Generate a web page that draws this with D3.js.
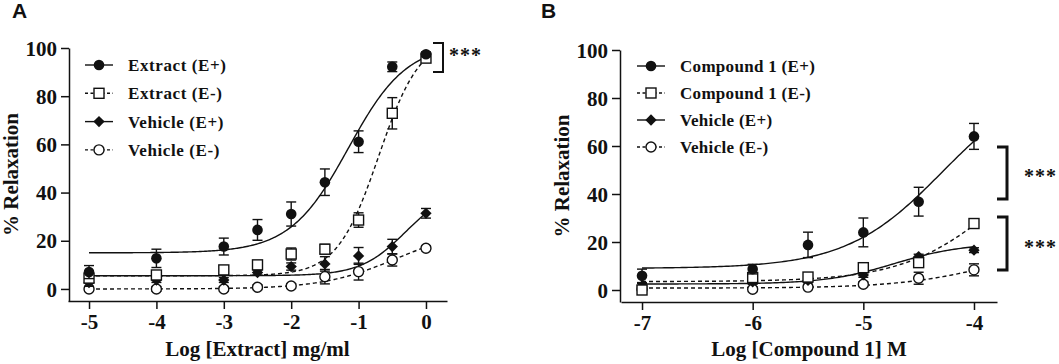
<!DOCTYPE html>
<html><head><meta charset="utf-8">
<script src="https://cdn.jsdelivr.net/npm/d3@7"></script>
<style>
body{margin:0;background:#fff;}
svg text{font-family:"Liberation Serif","Times New Roman",serif;font-weight:bold;fill:#111;}
</style></head>
<body><svg id="c" width="1059" height="364"></svg>
<script>
// ---------- Panel A data ----------
const aX = [-5, -4, -3, -2.5, -2, -1.5, -1, -0.5, 0];
const aExtractEp = [7, 12.7, 17.6, 24.5, 31.1, 44.3, 61.1, 92.2, 97.4];
const aExtractEpErr = [2.7, 3.8, 3.5, 4.3, 5, 5.5, 4.5, 2, 1];
const aExtractEm = [4.5, 5.8, 7.9, 10, 14.5, 16.5, 28.6, 72.9, 95.8];
const aExtractEmErr = [1.5, 1.5, 1.5, 1.5, 2.5, 2, 3, 6.5, 1.5];
const aVehicleEp = [2.6, 3.7, 3.7, 6.8, 9.3, 10.4, 13.7, 17.6, 31.4];
const aVehicleEpErr = [1.5, 1, 1, 1, 1.5, 3, 3.5, 3, 2];
const aVehicleEm = [0, 0, 0, 0.7, 1.2, 5.1, 7.2, 12, 16.9];
const aVehicleEmErr = [1, 1, 1, 1, 1, 3, 3.5, 2.5, 1];
// fitted curves: [bottom, top, logEC50, hill]
const aExtractEpFit = [15, 102, -1.15, 1.0];
const aExtractEmFit = [5.5, 105, -0.7, 1.4];
const aVehicleEpFit = [5.5, 42, -0.3, 1.3];
const aVehicleEmFit = [0, 25, -0.45, 0.8];
const aXTicks = [-5, -4, -3, -2, -1, 0];
const aLegend = ["Extract (E+)", "Extract (E-)", "Vehicle (E+)", "Vehicle (E-)"];

// ---------- Panel B data ----------
const bX = [-7, -6, -5.5, -5, -4.5, -4];
const bCompEp = [5.9, 8.7, 18.8, 24, 36.8, 64];
const bCompEpErr = [2.8, 2, 5.3, 6, 6, 5.4];
const bCompEm = [0, 5.2, 5.4, 9.3, 11.4, 27.7];
const bCompEmErr = [1, 1.5, 1.5, 1.5, 1.5, 2];
const bVehicleEp = [1.7, 3.4, 4, 6.3, 13.9, 16.6];
const bVehicleEpErr = [1, 1, 1, 1, 1, 1];
const bVehicleEm = [0.3, 0.3, 1.2, 2.4, 4.9, 8.4];
const bVehicleEmErr = [1, 1, 1, 1, 2.5, 2.5];
const bCompEpFit = [9, 89.5, -4.285, 1.0];
const bCompEmFit = [3.5, 68, -3.76, 1.0];
const bVehicleEpFit = [2.5, 19.5, -4.72, 1.4];
const bVehicleEmFit = [0.8, 20, -3.8, 1.0];
const bXTicks = [-7, -6, -5, -4];
const bLegend = ["Compound 1 (E+)", "Compound 1 (E-)", "Vehicle (E+)", "Vehicle (E-)"];

const yTicks = [0, 20, 40, 60, 80, 100];

// ---------- drawing ----------
const svg = d3.select("#c");
const INK = "#111";
const serif = '"Liberation Serif","Times New Roman",serif';

function sig(p, x) { return p[0] + (p[1] - p[0]) / (1 + Math.pow(10, (p[2] - x) * p[3])); }

function marker(g, type, cx, cy) {
  if (type === "fcircle") g.append("circle").attr("cx", cx).attr("cy", cy).attr("r", 5.3).attr("fill", INK);
  else if (type === "ocircle") g.append("circle").attr("cx", cx).attr("cy", cy).attr("r", 5).attr("fill", "#fff").attr("stroke", INK).attr("stroke-width", 1.4);
  else if (type === "square") g.append("rect").attr("x", cx - 5).attr("y", cy - 5).attr("width", 10).attr("height", 10).attr("fill", "#fff").attr("stroke", INK).attr("stroke-width", 1.4);
  else if (type === "diamond") g.append("path").attr("d", d3.symbol(d3.symbolSquare, 64)()).attr("transform", `translate(${cx},${cy}) rotate(45)`).attr("fill", INK);
}

function panel(cfg) {
  const x = d3.scaleLinear().domain(cfg.xDomain).range(cfg.xRange);
  const y = d3.scaleLinear().domain([-5, 100]).range(cfg.yRange);
  const g = svg.append("g");

  // axes
  const ya = d3.axisLeft(y).tickValues(yTicks).tickSize(8).tickSizeOuter(0).tickPadding(4).tickFormat(d => String(d));
  const yg = g.append("g").attr("transform", `translate(${cfg.yAxisX},0)`).call(ya);
  const xa = d3.axisBottom(x).tickValues(cfg.xTicks).tickSize(8).tickSizeOuter(0).tickPadding(5).tickFormat(d => String(d));
  const xg = g.append("g").attr("transform", `translate(0,${cfg.yRange[0]})`).call(xa);
  [yg, xg].forEach(a => {
    a.attr("font-family", null);
    a.selectAll("path,line").attr("stroke", INK).attr("stroke-width", 1.5);
    a.selectAll("text").attr("font-family", serif).attr("font-weight", "bold").attr("font-size", 21).attr("fill", INK);
  });
  yg.selectAll("text").attr("dy", "0.34em");

  // titles
  g.append("text").attr("x", (cfg.xRange[0] + cfg.xRange[1]) / 2).attr("y", 356).attr("text-anchor", "middle")
    .attr("font-size", 21).text(cfg.xTitle);
  g.append("text").attr("transform", `translate(${cfg.yTitleX},${(cfg.yRange[0] + cfg.yRange[1]) / 2}) rotate(-90)`)
    .attr("text-anchor", "middle").attr("font-size", 21).text("% Relaxation");
  g.append("text").attr("x", cfg.labelX).attr("y", 18)
    .attr("font-size", 21).style("font-family", '"Liberation Sans",Arial,sans-serif').text(cfg.label);

  // curves
  const line = d3.line().x(d => x(d[0])).y(d => y(d[1]));
  const xs = d3.range(cfg.xData[0], cfg.xData[cfg.xData.length - 1] + 1e-9, 0.02);
  cfg.series.forEach(s => {
    g.append("path").attr("d", line(xs.map(v => [v, sig(s.fit, v)])))
      .attr("fill", "none").attr("stroke", INK).attr("stroke-width", 1.4)
      .attr("stroke-dasharray", s.dash ? "4,3" : null);
  });
  // error bars + markers
  cfg.series.slice().reverse().forEach(s => {
    const sg = g.append("g");
    s.vals.forEach((v, i) => {
      const cx = x(cfg.xData[i]);
      const e = s.err[i];
      const top = y(v + e), bot = y(v - e);
      sg.append("line").attr("x1", cx).attr("x2", cx).attr("y1", top).attr("y2", bot).attr("stroke", INK).attr("stroke-width", 1.4);
      [top, bot].forEach(yy => sg.append("line").attr("x1", cx - 5).attr("x2", cx + 5).attr("y1", yy).attr("y2", yy).attr("stroke", INK).attr("stroke-width", 1.4));
    });
    s.vals.forEach((v, i) => marker(sg, s.type, x(cfg.xData[i]), y(v)));
  });

  // legend
  cfg.series.forEach((s, i) => {
    const ly = cfg.legY + i * cfg.legStep;
    g.append("line").attr("x1", cfg.legX).attr("x2", cfg.legX + 28).attr("y1", ly).attr("y2", ly)
      .attr("stroke", INK).attr("stroke-width", 1.4).attr("stroke-dasharray", s.dash ? "3,2.5" : null);
    marker(g, s.type, cfg.legX + 14, ly);
    g.append("text").attr("x", cfg.legX + 43).attr("y", ly + 6).attr("font-size", 17)
      .attr("letter-spacing", cfg.legSpacing).text(cfg.legend[i]);
  });

  // significance brackets
  cfg.brackets.forEach(b => {
    g.append("path").attr("d", `M${b.x - 10},${b.y0}H${b.x}V${b.y1}H${b.x - 10}`)
      .attr("fill", "none").attr("stroke", INK).attr("stroke-width", b.w);
    g.append("text").attr("x", b.x + b.tx).attr("y", b.ty).attr("font-size", 20).attr("letter-spacing", 1).attr("font-weight", "normal").text("***");
  });
}

panel({
  label: "A", labelX: 12,
  xDomain: [-5.312, 0.312], xRange: [68, 447], yRange: [301, 48], yAxisX: 69,
  xTicks: aXTicks, xData: aX, xTitle: "Log [Extract] mg/ml", yTitleX: 18,
  legX: 85, legY: 65, legStep: 28.3, legend: aLegend, legSpacing: 0.6,
  series: [
    {vals: aExtractEp, err: aExtractEpErr, fit: aExtractEpFit, type: "fcircle", dash: false},
    {vals: aExtractEm, err: aExtractEmErr, fit: aExtractEmFit, type: "square", dash: true},
    {vals: aVehicleEp, err: aVehicleEpErr, fit: aVehicleEpFit, type: "diamond", dash: false},
    {vals: aVehicleEm, err: aVehicleEmErr, fit: aVehicleEmFit, type: "ocircle", dash: true}
  ],
  brackets: [{x: 443, y0: 43, y1: 72, w: 2, tx: 6, ty: 62}]
});

panel({
  label: "B", labelX: 541,
  xDomain: [-7.19, -3.792], xRange: [621, 997], yRange: [302, 50], yAxisX: 620,
  xTicks: bXTicks, xData: bX, xTitle: "Log [Compound 1] M", yTitleX: 569,
  legX: 637, legY: 66, legStep: 27, legend: bLegend, legSpacing: 0.3,
  series: [
    {vals: bCompEp, err: bCompEpErr, fit: bCompEpFit, type: "fcircle", dash: false},
    {vals: bCompEm, err: bCompEmErr, fit: bCompEmFit, type: "square", dash: true},
    {vals: bVehicleEp, err: bVehicleEpErr, fit: bVehicleEpFit, type: "diamond", dash: false},
    {vals: bVehicleEm, err: bVehicleEmErr, fit: bVehicleEmFit, type: "ocircle", dash: true}
  ],
  brackets: [{x: 1007, y0: 147, y1: 199, w: 3, tx: 17, ty: 183},
             {x: 1007, y0: 217, y1: 270, w: 3, tx: 17, ty: 254}]
});
</script></body></html>
